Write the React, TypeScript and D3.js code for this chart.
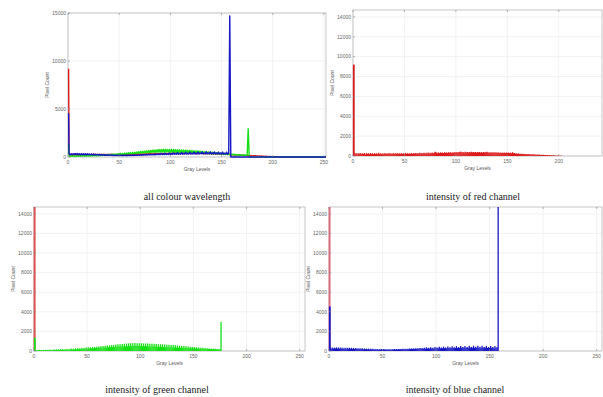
import React from "react";
import * as d3 from "d3";

// Histogram counts per gray level
const redCounts = [
  9200,
  320, 180, 300, 160, 290, 200, 310, 170, 280, 190, 300, 160, 290, 210, 280, 170, 300, 190, 270, 180,
  290, 200, 280, 170, 330, 190, 280, 200, 270, 180, 290, 210, 280, 190, 300, 200, 270, 180, 290, 210,
  280, 200, 300, 190, 270, 210, 290, 200, 280, 190, 320, 210, 290, 200, 280, 220, 300, 210, 290, 220,
  310, 220, 290, 230, 320, 240, 310, 250, 330, 240, 320, 260, 340, 250, 330, 270, 350, 280, 360, 420,
  350, 280, 360, 290, 370, 300, 360, 290, 380, 310, 370, 300, 390, 320, 380, 310, 390, 330, 400, 320,
  410, 330, 400, 440, 420, 340, 410, 330, 420, 350, 400, 340, 410, 350, 420, 360, 410, 350, 400, 340,
  410, 350, 400, 340, 390, 330, 400, 340, 390, 420, 380, 330, 390, 320, 380, 330, 370, 320, 380, 310,
  370, 300, 360, 310, 350, 290, 360, 300, 340, 290, 350, 280, 340, 270, 380, 280, 300, 240, 260, 220,
  240, 210, 230, 200, 220, 190, 210, 180, 200, 170, 190, 160, 180, 150, 170, 140, 160, 130, 150, 120,
  140, 110, 130, 100, 120, 90, 110, 80, 100, 70, 90, 60, 80, 50, 70, 40, 60, 30, 40, 20,
  30, 15, 20, 10, 10, 5, 5, 0, 0, 0, 0, 0, 0, 0, 0, 0, 0, 0, 0, 0,
  0, 0, 0, 0, 0, 0, 0, 0, 0, 0, 0, 0, 0, 0, 0, 0, 0, 0, 0, 0,
  0, 0, 0, 0, 0, 0, 0, 0, 0, 0, 0, 0, 0, 0, 0,
];

const greenCounts = [
  1350,
  120, 60, 110, 70, 130, 60, 120, 80, 110, 70, 140, 80, 130, 90, 150, 80, 140, 100, 160, 90,
  170, 100, 160, 110, 180, 120, 200, 110, 190, 130, 220, 140, 210, 150, 250, 160, 240, 170, 270, 180,
  290, 190, 280, 200, 320, 210, 300, 230, 350, 240, 380, 250, 360, 270, 400, 280, 420, 300, 440, 310,
  460, 320, 480, 340, 500, 350, 520, 360, 560, 380, 580, 400, 600, 410, 620, 420, 650, 430, 680, 450,
  700, 460, 720, 470, 740, 480, 760, 490, 780, 500, 790, 510, 800, 500, 810, 520, 790, 510, 800, 500,
  790, 500, 780, 490, 770, 480, 760, 470, 750, 470, 740, 460, 730, 450, 720, 440, 700, 430, 690, 420,
  680, 410, 660, 400, 650, 390, 640, 380, 620, 370, 600, 360, 580, 350, 560, 340, 540, 330, 520, 320,
  500, 310, 480, 300, 460, 290, 440, 280, 420, 270, 400, 260, 380, 250, 360, 240, 340, 230, 320, 220,
  300, 210, 280, 200, 260, 190, 240, 180, 230, 170, 220, 170, 210, 160, 200, 2950, 0, 0, 0, 0,
  0, 0, 0, 0, 0, 0, 0, 0, 0, 0, 0, 0, 0, 0, 0, 0, 0, 0, 0, 0,
  0, 0, 0, 0, 0, 0, 0, 0, 0, 0, 0, 0, 0, 0, 0, 0, 0, 0, 0, 0,
  0, 0, 0, 0, 0, 0, 0, 0, 0, 0, 0, 0, 0, 0, 0, 0, 0, 0, 0, 0,
  0, 0, 0, 0, 0, 0, 0, 0, 0, 0, 0, 0, 0, 0, 0, 0, 0, 0, 0, 0,
  0, 0, 0, 0, 0,
];

const blueCounts = [
  4550,
  360, 240, 350, 250, 340, 260, 370, 250, 360, 240, 350, 230, 340, 240, 330, 230, 340, 220, 330, 230,
  320, 220, 310, 210, 300, 200, 290, 210, 280, 200, 270, 190, 260, 180, 250, 170, 240, 160, 230, 170,
  220, 160, 210, 150, 200, 140, 190, 150, 200, 140, 190, 150, 180, 140, 190, 150, 180, 140, 190, 150,
  200, 160, 190, 160, 210, 170, 200, 170, 220, 180, 230, 180, 240, 190, 250, 200, 260, 210, 270, 210,
  280, 220, 290, 220, 300, 230, 310, 240, 320, 240, 380, 250, 330, 250, 390, 260, 340, 260, 410, 270,
  350, 270, 430, 280, 360, 280, 450, 290, 370, 290, 470, 300, 380, 300, 490, 300, 390, 310, 500, 310,
  400, 310, 510, 320, 410, 320, 520, 320, 420, 330, 530, 330, 420, 330, 540, 330, 430, 330, 540, 330,
  430, 330, 530, 320, 420, 320, 520, 310, 410, 310, 510, 300, 400, 300, 500, 290, 400, 14700, 0, 0,
  0, 0, 0, 0, 0, 0, 0, 0, 0, 0, 0, 0, 0, 0, 0, 0, 0, 0, 0, 0,
  0, 0, 0, 0, 0, 0, 0, 0, 0, 0, 0, 0, 0, 0, 0, 0, 0, 0, 0, 0,
  0, 0, 0, 0, 0, 0, 0, 0, 0, 0, 0, 0, 0, 0, 0, 0, 0, 0, 0, 0,
  0, 0, 0, 0, 0, 0, 0, 0, 0, 0, 0, 0, 0, 0, 0, 0, 0, 0, 0, 0,
  0, 0, 0, 0, 0, 0, 0, 0, 0, 0, 0, 0, 0, 0, 0, 0, 0, 0, 0, 0,
  0, 0, 0, 0, 0, 0, 0, 0, 0,
];

const xTicksFull = [0, 50, 100, 150, 200, 250];
const xTicksRed = [0, 50, 100, 150, 200];
const yTicksAll = [0, 5000, 10000, 15000];
const yTicksSingle = [0, 2000, 4000, 6000, 8000, 10000, 12000, 14000];

const captions = [
  "all colour wavelength",
  "intensity of red channel",
  "intensity of green channel",
  "intensity of blue channel",
];

const RED = "#dc1a1a";
const GREEN = "#14e014";
const BLUE = "#1717c4";

type Series = { values: number[]; color: string };

const Panel = ({
  left, right, top, bottom, xMax, yMax, xTicks, yTicks, series, mode, zeroLine,
}: {
  left: number; right: number; top: number; bottom: number;
  xMax: number; yMax: number; xTicks: number[]; yTicks: number[];
  series: Series[]; mode: "line" | "stem"; zeroLine?: string;
}) => {
  const x = d3.scaleLinear().domain([0, xMax]).range([left, right]);
  const y = d3.scaleLinear().domain([0, yMax]).range([bottom, top]);
  const line = d3
    .line<number>()
    .x((_, i) => x(i) + (i === 0 ? 0.6 : 0))
    .y((d) => y(d));
  const clipId = `clip-${left}-${top}`;
  const sans = "Liberation Sans, Arial, sans-serif";

  return (
    <g>
      <clipPath id={clipId}>
        <rect x={left - 2} y={top} width={right - left + 2} height={bottom - top + 1} />
      </clipPath>
      <rect x={left} y={top} width={right - left} height={bottom - top} fill="#fff" />
      {/* grid */}
      {xTicks.map((t) => (
        <line key={"gx" + t} x1={x(t)} x2={x(t)} y1={top} y2={bottom} stroke="#ececec" strokeWidth={0.7} />
      ))}
      {yTicks.map((t) => (
        <line key={"gy" + t} x1={left} x2={right} y1={y(t)} y2={y(t)} stroke="#ececec" strokeWidth={0.7} />
      ))}
      {/* box */}
      <rect x={left} y={top} width={right - left} height={bottom - top} fill="none" stroke="#b8b8b8" strokeWidth={0.8} />
      <g clipPath={`url(#${clipId})`}>
        {zeroLine && (
          <line x1={x(0) + 0.6} x2={x(0) + 0.6} y1={top} y2={bottom} stroke={zeroLine} strokeWidth={2} />
        )}
        {series.map((s, k) =>
          mode === "line" ? (
            <path key={k} d={line(s.values) || ""} fill="none" stroke={s.color} strokeWidth={1.4} strokeLinejoin="round" />
          ) : (
            <g key={k}>
              {s.values.map((v, i) =>
                v > 0 ? (
                  <line
                    key={i}
                    x1={x(i) + (i === 0 ? 0.8 : 0)}
                    x2={x(i) + (i === 0 ? 0.8 : 0)}
                    y1={y(0)}
                    y2={y(v)}
                    stroke={s.color}
                    strokeWidth={i === 0 ? 1.8 : 1.3}
                  />
                ) : null
              )}
            </g>
          )
        )}
      </g>
      {xTicks.map((t) => (
        <g key={"tx" + t}>
          <line x1={x(t)} x2={x(t)} y1={bottom} y2={bottom - 2} stroke="#888" strokeWidth={0.6} />
          <line x1={x(t)} x2={x(t)} y1={top} y2={top + 2} stroke="#888" strokeWidth={0.6} />
          <text x={x(t)} y={bottom + 7} textAnchor="middle" fontSize={5} fill="#666" fontFamily={sans}>
            {t}
          </text>
        </g>
      ))}
      {yTicks.map((t) => (
        <g key={"ty" + t}>
          <line x1={left} x2={left + 2} y1={y(t)} y2={y(t)} stroke="#888" strokeWidth={0.6} />
          <text x={left - 2} y={y(t) + 1.8} textAnchor="end" fontSize={5} fill="#666" fontFamily={sans}>
            {t}
          </text>
        </g>
      ))}
      <text x={(left + right) / 2} y={bottom + 14} textAnchor="middle" fontSize={5} fill="#555" fontFamily={sans}>
        Gray Levels
      </text>
      <text
        transform={`translate(${left - 19}, ${(top + bottom) / 2}) rotate(-90)`}
        textAnchor="middle"
        fontSize={5}
        fill="#555"
        fontFamily={sans}
      >
        Pixel Count
      </text>
    </g>
  );
};

export default function App() {
  const W = 603;
  const H = 397;
  const serif = "Liberation Serif, Times New Roman, serif";
  return (
    <div style={{ position: "absolute", left: 0, top: 0 }}>
      <svg width={W} height={H} style={{ display: "block", background: "#fff" }}>
        <Panel
          left={68} right={326} top={13} bottom={157}
          xMax={252} yMax={15000} xTicks={xTicksFull} yTicks={yTicksAll}
          mode="line"
          series={[
            { values: redCounts, color: RED },
            { values: greenCounts, color: GREEN },
            { values: blueCounts, color: BLUE },
          ]}
        />
        <Panel
          left={353} right={602} top={10} bottom={156}
          xMax={242} yMax={14700} xTicks={xTicksRed} yTicks={yTicksSingle}
          mode="stem"
          series={[{ values: redCounts, color: RED }]}
        />
        <Panel
          left={34} right={305} top={207} bottom={351}
          xMax={255} yMax={14700} xTicks={xTicksFull} yTicks={yTicksSingle}
          mode="stem" zeroLine="#e05050"
          series={[{ values: greenCounts, color: GREEN }]}
        />
        <Panel
          left={329} right={602} top={207} bottom={351}
          xMax={255} yMax={14700} xTicks={xTicksFull} yTicks={yTicksSingle}
          mode="stem" zeroLine="#e07080"
          series={[{ values: blueCounts, color: BLUE }]}
        />
        <text x={187} y={200} textAnchor="middle" fontSize={10} fontFamily={serif} fill="#222">{captions[0]}</text>
        <text x={473} y={200} textAnchor="middle" fontSize={10} fontFamily={serif} fill="#222">{captions[1]}</text>
        <text x={157} y={393} textAnchor="middle" fontSize={10} fontFamily={serif} fill="#222">{captions[2]}</text>
        <text x={455} y={393} textAnchor="middle" fontSize={10} fontFamily={serif} fill="#222">{captions[3]}</text>
      </svg>
    </div>
  );
}
